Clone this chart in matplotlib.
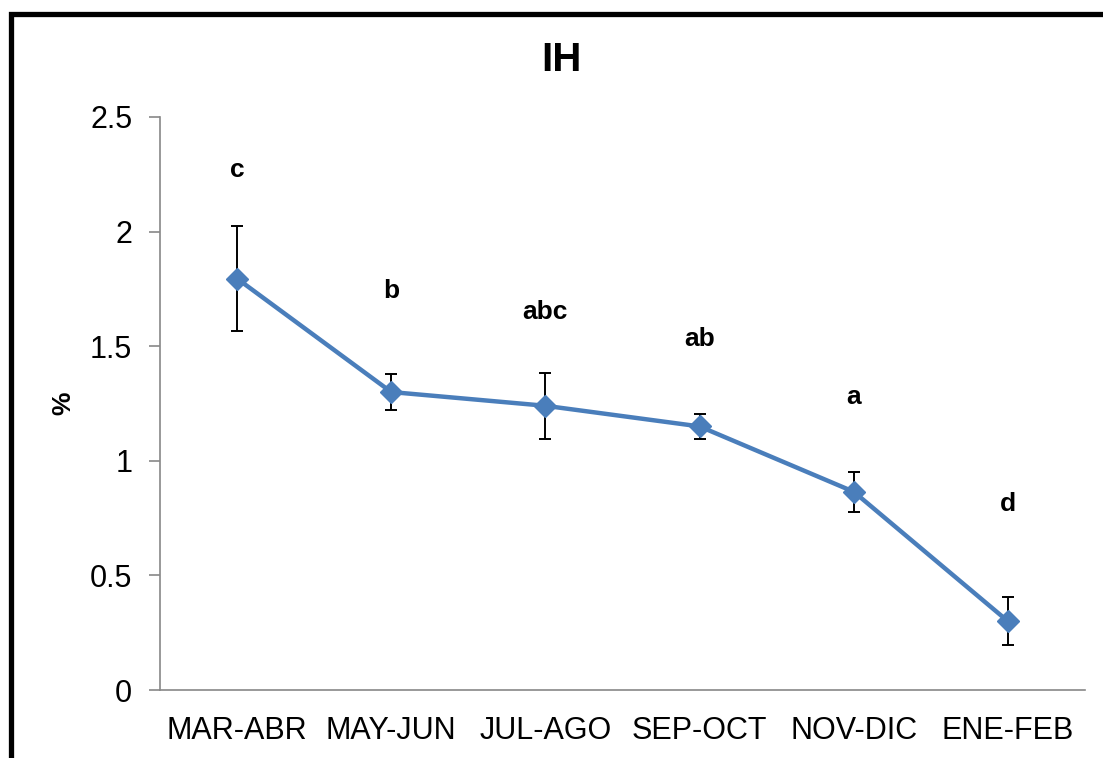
import matplotlib
matplotlib.use("Agg")
import matplotlib.pyplot as plt
from matplotlib.lines import Line2D

categories = ["MAR-ABR", "MAY-JUN", "JUL-AGO", "SEP-OCT", "NOV-DIC", "ENE-FEB"]
values = [1.795, 1.30, 1.24, 1.15, 0.865, 0.30]
errors = [0.23, 0.08, 0.145, 0.055, 0.087, 0.105]
letters = ["c", "b", "abc", "ab", "a", "d"]
letter_y = [2.27, 1.74, 1.65, 1.53, 1.28, 0.81]
yticks = [0, 0.5, 1, 1.5, 2, 2.5]
ytick_labels = ["0", "0.5", "1", "1.5", "2", "2.5"]

plt.rcParams['font.family'] = ['Liberation Sans', 'DejaVu Sans']

W, H = 1103, 758
fig = plt.figure(figsize=(W / 100, H / 100), dpi=100)
ax = fig.add_axes([160 / W, 1 - 690 / H, (1085 - 160) / W, (690 - 117) / H])

x = list(range(len(categories)))
ax.errorbar(x, values, yerr=errors, fmt='none', ecolor='black', elinewidth=1.4,
            capsize=4.3, capthick=1.4, zorder=2)
ax.plot(x, values, color='#4a7ebb', linewidth=3.2, marker='D', markersize=11,
        markerfacecolor='#4a7ebb', markeredgecolor='#4a7ebb', zorder=3)

for xi, lt, ly in zip(x, letters, letter_y):
    ax.text(xi, ly, lt, ha='center', va='center', fontsize=19, fontweight='bold')

ax.set_xlim(-0.5, len(categories) - 0.5)
ax.set_ylim(0, 2.5)
ax.set_yticks(yticks)
ax.set_yticklabels(ytick_labels)
ax.set_xticks(x)
ax.set_xticklabels(categories)
ax.tick_params(axis='y', length=8, width=1.2, color='#888888', labelsize=22, pad=12)
ax.tick_params(axis='x', length=0, labelsize=22, pad=19)

for s in ['top', 'right']:
    ax.spines[s].set_visible(False)
for s in ['left', 'bottom']:
    ax.spines[s].set_color('#888888')
    ax.spines[s].set_linewidth(1.2)

fig.text(63 / W, 1 - 403 / H, "%", rotation=90, ha='center', va='center',
         fontsize=19, fontweight='bold')
fig.text(561 / W, 1 - 60 / H, "IH", ha='center', va='center',
         fontsize=29, fontweight='bold')

# outer frame (left and top edges visible)
fig.add_artist(Line2D([10.5 / W, 10.5 / W, 1.0], [0.0, 1 - 14 / H, 1 - 14 / H],
                      transform=fig.transFigure, color='black', linewidth=3.8,
                      solid_joinstyle='miter'))

fig.savefig("out.png", dpi=100)
